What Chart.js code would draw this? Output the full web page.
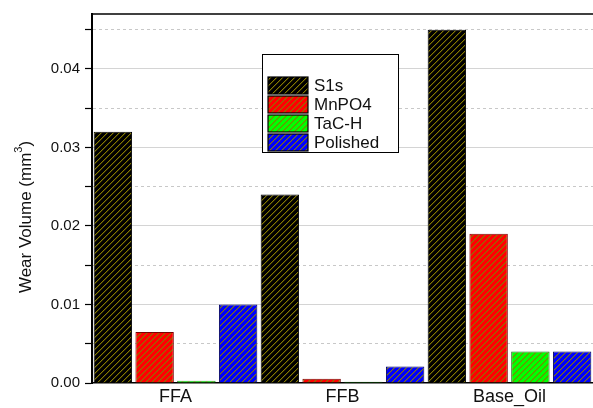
<!DOCTYPE html>
<html>
<head>
<meta charset="utf-8">
<script src="https://cdn.jsdelivr.net/npm/chart.js@4"></script>
<style>
    html, body { margin: 0; padding: 0; background: #fff; }
    #wrap { width: 593px; height: 408px; }
</style>
</head>
<body>
<div id="wrap"><canvas id="wear-chart" width="593" height="408"></canvas></div>
<script>
const categories = ['FFA', 'FFB', 'Base_Oil'];
const seriesNames = ['S1s', 'MnPO4', 'TaC-H', 'Polished'];
const s1s = [0.032, 0.024, 0.045];
const mnpo4 = [0.0065, 0.00055, 0.019];
const tach = [0.0003, 0.00015, 0.004];
const polished = [0.010, 0.0021, 0.004];
const yTickLabels = ['0.00', '0.01', '0.02', '0.03', '0.04'];

const fills = ['#000000', '#ff0000', '#00ff00', '#0000ff'];
const edges = ['#000000', '#7a0000', '#1f6b1f', '#000060'];
const FONT = '"Liberation Sans", Arial, sans-serif';

// diagonal hatch like the origin plot, drawn pixel by pixel so it stays crisp
function hatch(color) {
    const c = document.createElement('canvas');
    c.width = 6; c.height = 6;
    const g = c.getContext('2d');
    g.fillStyle = color;
    g.fillRect(0, 0, 6, 6);
    for (let i = 0; i < 6; i++) {
        g.fillStyle = '#857a00';
        g.fillRect(i, 5 - i, 1, 1);
        g.fillStyle = 'rgba(133,122,0,0.35)';
        g.fillRect(i, (6 - i) % 6, 1, 1);
    }
    return g.createPattern(c, 'repeat');
}

const values = [s1s, mnpo4, tach, polished];
const datasets = seriesNames.map((name, i) => ({
    label: name,
    data: values[i],
    backgroundColor: hatch(fills[i]),
    borderColor: edges[i],
    borderWidth: 1
}));

const decorPlugin = {
    id: 'decor',
    afterDraw(chart) {
        const ctx = chart.ctx;
        const a = chart.chartArea;
        ctx.save();
        // top frame line
        ctx.strokeStyle = '#000';
        ctx.lineWidth = 1.5;
        ctx.beginPath();
        ctx.moveTo(a.left, a.top);
        ctx.lineTo(a.right, a.top);
        ctx.stroke();

        // y title with superscript
        ctx.save();
        ctx.translate(26, 217);
        ctx.rotate(-Math.PI / 2);
        ctx.fillStyle = '#111';
        ctx.textBaseline = 'middle';
        ctx.font = '17px ' + FONT;
        const t1 = 'Wear Volume (mm';
        const w1 = ctx.measureText(t1).width;
        ctx.font = '11px ' + FONT;
        const w2 = ctx.measureText('3').width;
        ctx.font = '17px ' + FONT;
        const w3 = ctx.measureText(')').width;
        let x = -(w1 + w2 + w3) / 2;
        ctx.textAlign = 'left';
        ctx.fillText(t1, x, 0);
        x += w1;
        ctx.font = '11px ' + FONT;
        ctx.fillText('3', x, -7);
        x += w2;
        ctx.font = '17px ' + FONT;
        ctx.fillText(')', x, 0);
        ctx.restore();

        // legend box
        const lx = 262, ly = 54, lw = 136, lh = 98;
        ctx.fillStyle = '#fff';
        ctx.fillRect(lx, ly, lw, lh);
        ctx.strokeStyle = '#000';
        ctx.lineWidth = 1;
        ctx.strokeRect(lx + 0.5, ly + 0.5, lw, lh);
        ctx.font = '17px ' + FONT;
        ctx.textBaseline = 'middle';
        ctx.textAlign = 'left';
        chart.data.datasets.forEach((ds, i) => {
            const cy = 85 + i * 19;
            ctx.fillStyle = ds.backgroundColor;
            ctx.fillRect(268, cy - 8, 40, 17);
            ctx.strokeStyle = '#000';
            ctx.lineWidth = 1.2;
            ctx.strokeRect(268, cy - 8, 40, 17);
            ctx.fillStyle = '#111';
            ctx.fillText(ds.label, 314, cy + 1);
        });
        ctx.restore();
    }
};

new Chart(document.getElementById('wear-chart'), {
    type: 'bar',
    data: { labels: categories, datasets: datasets },
    options: {
        responsive: false,
        animation: false,
        layout: { padding: { top: 11, left: 0, right: 0, bottom: 0 } },
        datasets: { bar: { categoryPercentage: 1.0, barPercentage: 0.92 } },
        plugins: { legend: { display: false }, tooltip: { enabled: false } },
        scales: {
            x: {
                grid: { display: false, drawTicks: false },
                border: { display: true, color: '#000', width: 1.5 },
                ticks: { color: '#111', font: { family: FONT, size: 18 }, padding: 3 },
                afterFit: (s) => { s.height = 25; }
            },
            y: {
                min: 0,
                max: 0.047,
                border: {
                    display: true, color: '#000', width: 2,
                    dash: (c) => (c.tick && c.index % 2 === 1) ? [3, 3] : []
                },
                grid: {
                    drawTicks: true,
                    tickLength: 7,
                    tickColor: '#000',
                    tickWidth: 1.2,
                    lineWidth: 1,
                    color: (c) => c.index === 0 ? 'rgba(0,0,0,0)' : (c.index % 2 === 1 ? '#c8c8c8' : '#d4d4d4')
                },
                ticks: {
                    stepSize: 0.005,
                    includeBounds: false,
                    color: '#111',
                    font: { family: FONT, size: 15 },
                    padding: 5,
                    autoSkip: false,
                    callback: (v, i) => i % 2 === 0 ? yTickLabels[i / 2] : ''
                },
                afterFit: (s) => { s.width = 92; }
            }
        }
    },
    plugins: [decorPlugin]
});
</script>
</body>
</html>
